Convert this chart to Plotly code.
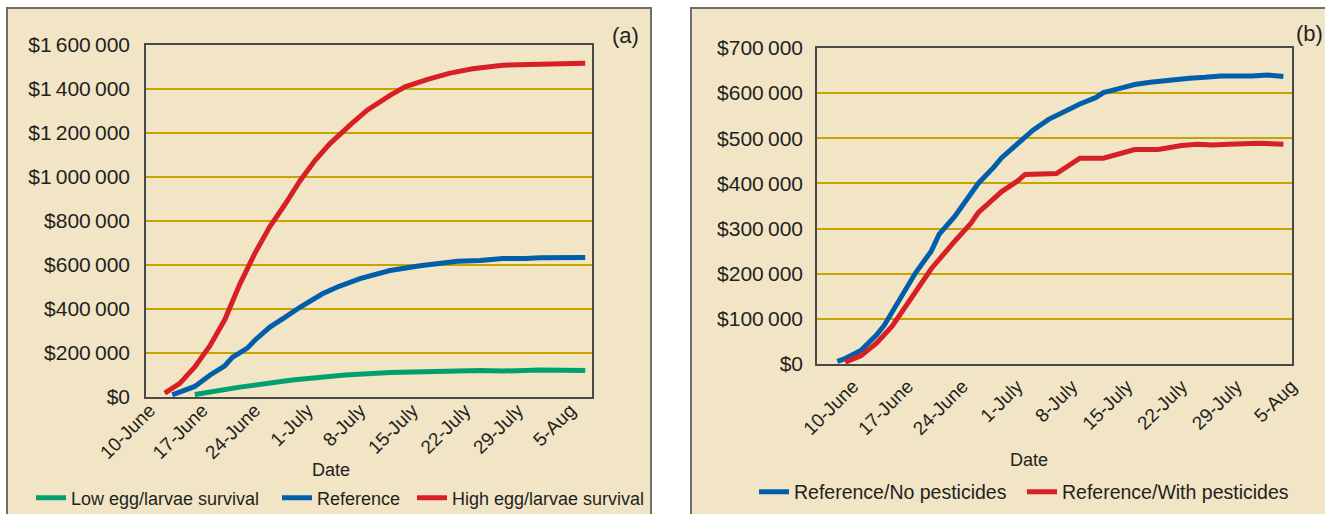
import plotly.graph_objects as go

# ---------------- data ----------------
# x values are days after 10 June
tick_days = [0, 7, 14, 21, 28, 35, 42, 49, 56]
tick_labels = ["10-June", "17-June", "24-June", "1-July", "8-July",
               "15-July", "22-July", "29-July", "5-Aug"]

# Panel (a)
low_days = [6, 12, 19, 26, 32, 39, 44, 47, 52, 58]
low_vals = [11000, 45000, 77000, 100000, 111000, 117000, 121000, 118000, 123000, 120000]

ref_a_days = [3, 6, 8, 10, 11, 13, 14, 16, 18, 20, 23, 25, 28, 30, 32, 36, 41, 44, 47, 50, 52, 58]
ref_a_vals = [10000, 48000, 99000, 142000, 180000, 222000, 258000, 318000, 362000, 408000,
              469000, 500000, 538000, 556000, 575000, 597000, 617000, 621000, 629000,
              629000, 633000, 634000]

high_days = [2, 4, 6, 8, 10, 12, 14, 16, 18, 20, 22, 24, 27, 29, 32, 34, 37, 40, 43, 47, 52, 58]
high_vals = [18000, 62000, 137000, 232000, 352000, 513000, 653000, 775000, 875000, 982000,
             1075000, 1152000, 1246000, 1305000, 1371000, 1410000, 1444000, 1472000,
             1492000, 1508000, 1512000, 1517000]

# Panel (b)
nopest_days = [-2, -1, 1, 3, 4, 6, 8, 10, 11, 13, 15, 16, 18, 19, 20, 22, 23, 25, 27, 29,
               31, 32, 34, 36, 38, 41, 43, 45, 47, 51, 53, 55]
nopest_vals = [6000, 12000, 30000, 64000, 86000, 142000, 202000, 250000, 287000, 327000,
               374000, 400000, 436000, 457000, 472000, 505000, 518000, 542000, 560000,
               576000, 590000, 601000, 610000, 619000, 624000, 630000, 633000, 635000,
               638000, 638000, 640000, 637000]

pest_days = [-1, 1, 3, 5, 8, 10, 13, 15, 16, 18, 19, 21, 22, 26, 29, 32, 36, 39, 42, 44,
             46, 48, 52, 55]
pest_vals = [4000, 18000, 46000, 84000, 160000, 211000, 272000, 310000, 335000, 366000,
             382000, 405000, 420000, 422000, 456000, 456000, 475000, 475000, 484000,
             487000, 485000, 487000, 489000, 487000]

# ---------------- style ----------------
W, H = 1325, 514
BEIGE = "#F1E5C6"
GOLD = "#C9A400"
RED = "#D71F26"
BLUE = "#005EAB"
GREEN = "#00A070"
TXT = "#231F20"
FONT = "Liberation Sans, Arial, sans-serif"


def px_x(p):
    return p / W


def px_y(p):
    return 1 - p / H


fig = go.Figure()

series = [
    (low_days, low_vals, "Low egg/larvae survival", GREEN, "x", "y", "legend"),
    (ref_a_days, ref_a_vals, "Reference", BLUE, "x", "y", "legend2"),
    (high_days, high_vals, "High egg/larvae survival", RED, "x", "y", "legend3"),
    (nopest_days, nopest_vals, "Reference/No pesticides", BLUE, "x2", "y2", "legend4"),
    (pest_days, pest_vals, "Reference/With pesticides", RED, "x2", "y2", "legend5"),
]
for xs, ys, name, color, xa, ya, lg in series:
    fig.add_trace(go.Scatter(x=xs, y=ys, mode="lines", name=name,
                             line=dict(color=color, width=5), showlegend=True,
                             xaxis=xa, yaxis=ya, legend=lg))

axis_common = dict(showline=True, linecolor="#4A4A4A", linewidth=1.5, mirror=True,
                   ticks="", zeroline=False, automargin=False)


def leg(xpx, ypx, size):
    return dict(orientation="h", x=px_x(xpx), xanchor="left", y=px_y(ypx), yanchor="middle",
                bgcolor="rgba(0,0,0,0)", font=dict(size=size, color=TXT), borderwidth=0,
                visible=True)


fig.update_layout(
    template="none",
    showlegend=True,
    width=W, height=H,
    margin=dict(l=0, r=0, t=0, b=0, pad=0, autoexpand=False),
    paper_bgcolor="white",
    plot_bgcolor="white",
    separators=".\u2009",
    font=dict(family=FONT, color=TXT, size=18),
    xaxis=dict(domain=[px_x(146), px_x(592)], range=[-0.5, 58.9], anchor="y",
               tickvals=tick_days, ticktext=tick_labels, tickangle=-45,
               tickfont=dict(size=19), showgrid=False, ticklabelstandoff=-7, **axis_common),
    yaxis=dict(domain=[px_y(397), px_y(45)], range=[0, 1600000], dtick=200000, anchor="x",
               tickprefix="$", tickformat=",d", tickfont=dict(size=21),
               showgrid=True, gridcolor=GOLD, gridwidth=1.5, ticklabelstandoff=10, **axis_common),
    xaxis2=dict(domain=[px_x(817), px_x(1292)], range=[-4.6, 56.1], anchor="y2",
                tickvals=tick_days, ticktext=tick_labels, tickangle=-45,
                tickfont=dict(size=19), showgrid=False, ticklabelstandoff=2, **axis_common),
    yaxis2=dict(domain=[px_y(364), px_y(48)], range=[0, 700000], dtick=100000, anchor="x2",
                tickprefix="$", tickformat=",d", tickfont=dict(size=21),
                showgrid=True, gridcolor=GOLD, gridwidth=1.5, ticklabelstandoff=8, **axis_common),
    legend=leg(31, 498, 18),
    legend2=leg(277, 498, 18),
    legend3=leg(412, 498, 18),
    legend4=leg(754, 492, 19.5),
    legend5=leg(1022, 492, 19.5),
    shapes=[
        dict(type="rect", xref="paper", yref="paper", x0=px_x(7), x1=px_x(651),
             y0=-0.05, y1=px_y(8), fillcolor=BEIGE, line=dict(color="#6E6E6E", width=2),
             layer="below"),
        dict(type="rect", xref="paper", yref="paper", x0=px_x(691), x1=1.05,
             y0=-0.05, y1=px_y(8), fillcolor=BEIGE, line=dict(color="#6E6E6E", width=2),
             layer="below"),
    ],
    annotations=[
        dict(text="(a)", xref="paper", yref="paper", x=px_x(625), y=px_y(36),
             showarrow=False, font=dict(size=22, color=TXT), xanchor="center", yanchor="middle"),
        dict(text="(b)", xref="paper", yref="paper", x=px_x(1309), y=px_y(33),
             showarrow=False, font=dict(size=22, color=TXT), xanchor="center", yanchor="middle"),
        dict(text="Date", xref="paper", yref="paper", x=px_x(331), y=px_y(470),
             showarrow=False, font=dict(size=18, color=TXT), xanchor="center", yanchor="middle"),
        dict(text="Date", xref="paper", yref="paper", x=px_x(1029), y=px_y(460),
             showarrow=False, font=dict(size=18, color=TXT), xanchor="center", yanchor="middle"),
    ],
)

fig.write_html("out.html",
               config={"displayModeBar": False},
               post_script="document.body.style.margin='0px';document.body.style.overflow='hidden';")
